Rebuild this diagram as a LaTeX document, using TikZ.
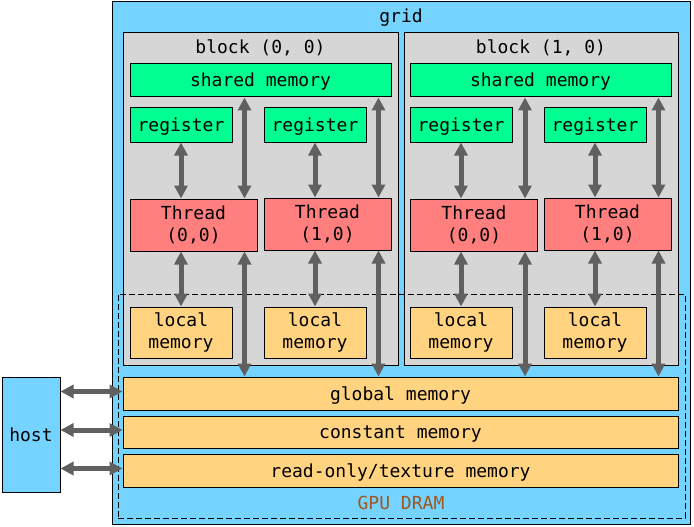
\documentclass[tikz,border=0pt]{standalone}
\usepackage{fontspec}
\setmainfont{DejaVu Sans Mono}
\usetikzlibrary{arrows.meta}
\definecolor{gridblue}{HTML}{75D4FF}
\definecolor{blockgray}{HTML}{D6D6D6}
\definecolor{memgreen}{HTML}{00FF90}
\definecolor{threadred}{HTML}{FF7F7F}
\definecolor{memorange}{HTML}{FFD37F}
\definecolor{dramtext}{HTML}{A0561E}
\definecolor{linkgray}{HTML}{606060}

\begin{document}
\begin{tikzpicture}[x=1pt, y=-1pt,
        every node/.style={align=center, font=\fontsize{18}{22}\selectfont, inner sep=0pt,
            text height=14pt, text depth=1pt},
        box/.style={draw, line width=1pt, rectangle},
        twoline/.style={text height={}, text depth={}, execute at begin node={\rule{0pt}{17.5pt}}},
        block/.style={box, fill=blockgray, minimum width=275pt, minimum height=332pt},
        shared/.style={box, fill=memgreen, minimum width=261pt, minimum height=33pt},
        register/.style={box, fill=memgreen, minimum width=102pt, minimum height=34pt},
        thread/.style={box, twoline, fill=threadred, minimum width=127pt, minimum height=52pt},
        local/.style={box, twoline, fill=memorange, minimum width=102pt, minimum height=51pt},
        devmem/.style={box, fill=memorange, minimum width=555pt, minimum height=33pt},
        link/.style={linkgray, line width=5pt,
            {Triangle[width=13pt,length=13pt]}-{Triangle[width=13pt,length=13pt]}},
    ]
    \useasboundingbox (0,0) rectangle (694,527);
    \node[box, fill=gridblue, minimum width=578pt, minimum height=522pt] (grid) at (401,263) {};
    \node (gridtext) at (401,16) {grid};

    % blocks
    \node[block] (b0) at (260.5,199) {};
    \node (b0text) at (260.5,47) {block (0, 0)};
    \node[shared] (sh0) at (260.5,80.5) {shared memory};
    \node[register] (r00) at (181,125) {register};
    \node[register] (r01) at (315,125) {register};
    \node[thread] (t00) at (193.5,225) {Thread\\(0,0)};
    \node[thread] (t01) at (327.5,224) {Thread\\(1,0)};
    \node[local] (l00) at (181,332.5) {local\\memory};
    \node[local] (l01) at (315,332.5) {local\\memory};

    \node[block, minimum width=274pt] (b1) at (541,199) {};
    \node (b1text) at (541,47) {block (1, 0)};
    \node[shared] (sh1) at (540.5,80.5) {shared memory};
    \node[register] (r10) at (461,125) {register};
    \node[register] (r11) at (595,125) {register};
    \node[thread] (t10) at (474,225) {Thread\\(0,0)};
    \node[thread] (t11) at (607.5,224) {Thread\\(1,0)};
    \node[local] (l10) at (461,332.5) {local\\memory};
    \node[local] (l11) at (595,332.5) {local\\memory};

    % device memory
    \node[draw, dash pattern=on 6pt off 3pt, line width=0.9pt, minimum width=567pt, minimum height=224pt] (dram) at (401.5,406) {};
    \node[text=dramtext] (dramtext) at (401,503) {GPU DRAM};
    \node[devmem] (glob) at (400.5,393.5) {global memory};
    \node[devmem, minimum height=32pt] (const) at (400.5,432) {constant memory};
    \node[devmem] (tex) at (400.5,470.5) {read-only/texture memory};
    \node[box, fill=gridblue, minimum width=58pt, minimum height=115pt] (host) at (31,434.5) {host};

    % links
    \foreach \t/\r/\l/\s in {t00/r00/l00/sh0, t01/r01/l01/sh0, t10/r10/l10/sh1, t11/r11/l11/sh1}{
        \draw[link] (\r.south) -- (\r.south |- \t.north);
        \draw[link] ([xshift=-13pt]\t.north east) -- ([xshift=-13pt]\t.north east |- \s.south);
        \draw[link] (\l.north |- \t.south) -- (\l.north);
        \draw[link] ([xshift=-13pt]\t.south east) -- ([xshift=-13pt]\t.south east |- glob.north);
    }
    \draw[link] ([yshift=2pt]host.east |- glob.west) -- ([yshift=2pt]glob.west);
    \draw[link] ([yshift=2pt]host.east |- const.west) -- ([yshift=2pt]const.west);
    \draw[link] ([yshift=2pt]host.east |- tex.west) -- ([yshift=2pt]tex.west);
\end{tikzpicture}
\end{document}
